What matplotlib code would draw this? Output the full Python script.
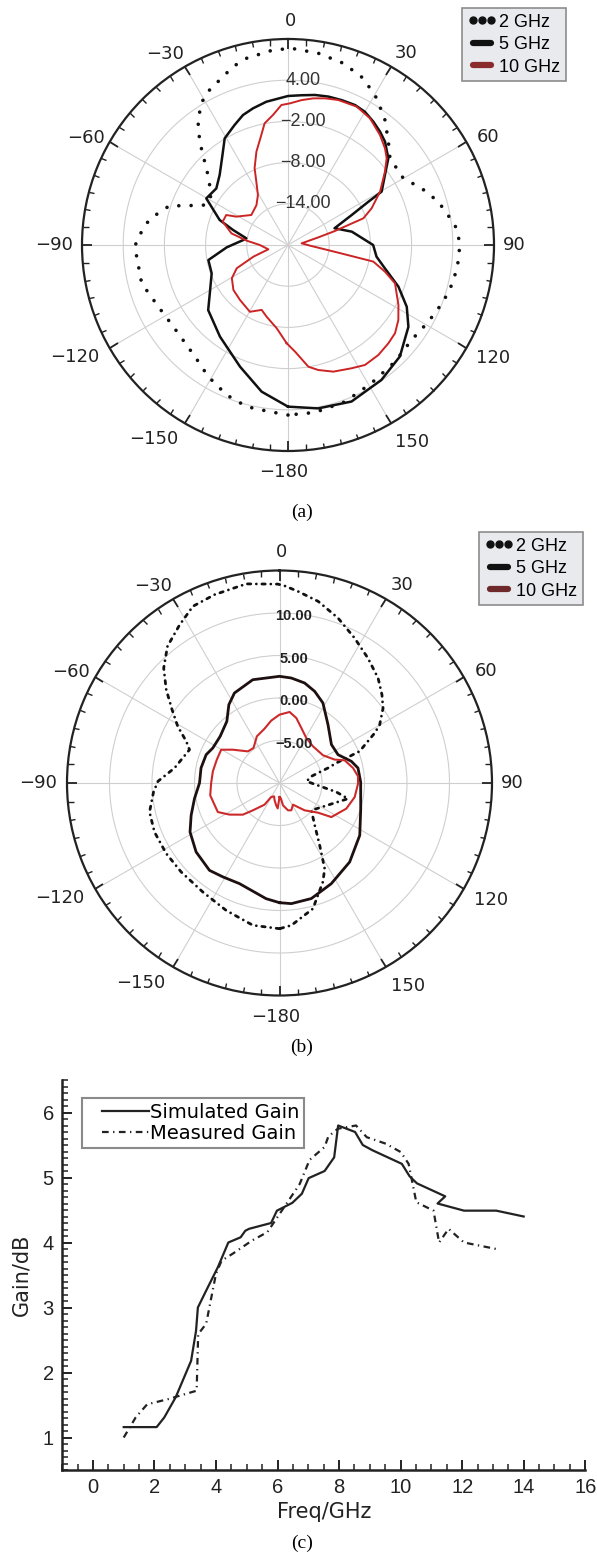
import numpy as np
import matplotlib
matplotlib.use('Agg')
import matplotlib.pyplot as plt
from matplotlib.lines import Line2D
from matplotlib.legend_handler import HandlerLine2D
from matplotlib.ticker import MultipleLocator, FixedLocator
import matplotlib.transforms as mtransforms

# ---------------- data ----------------
# (a) pattern, angle in degrees (0 = top, clockwise), gain in dB
a2_ang = [-180, -173.3, -165.7, -157.8, -148.8, -140.2, -125.9, -115.4, -104.7, -94.4, -90.6, -86.1,
          -80.5, -76.3, -71.6, -69.5, -63.9, -56.9, -48.8, -43.4, -40.5, -36.1, -31.5, -27.6, -17.1,
          -12.6, -4.4, 1.1, 9, 16.9, 24.3, 31.2, 37.8, 44.2, 49.6, 60, 67, 73.9, 83.2, 89.4, 95.6,
          102.5, 110, 118.6, 127.5, 137.5, 148.8, 160, 170.9, 180]
a2_val = [4.76, 4.4, 4.3, 3.6, 2.41, 1.16, 0.5, 0.91, 2.03, 2.1, 2.33, 1.65,
          0.67, -0.5, -1.84, -3.7, -6.76, -6.67, -4.5, -2.0, -0.2, 2.24, 4.2, 5.19, 7.18,
          7.85, 8.48, 8.64, 8.27, 7.67, 6.64, 4.96, 3.04, 0.97, -0.5, -0.6, 1.14, 2.78, 4.5, 5.05, 4.9,
          4.66, 4.08, 3.3, 2.7, 3.06, 3.5, 4.3, 4.7, 4.76]

a5_ang = [-180, -169.8, -158.5, -143.4, -129.2, -121.8, -110.4, -100.7, -92.2, -83.6, -80.9, -74.7,
          -69.9, -60.3, -51.7, -44.3, -36.1, -30.7, -24, -19.1, -14.4, -8.6, 0, 5.2, 10.2, 15.2,
          20.3, 25.6, 30, 34.7, 39.1, 43.2, 49.2, 54.2, 60.3, 61.7, 64.8, 70.2, 78.2, 90, 97.5,
          103.5, 110.7, 117.5, 124.2, 134.9, 145.3, 157.9, 169.5, 180]
a5_val = [3.54, 1.7, -0.95, -3.38, -5.0, -6.6, -8.14, -8.2, -11.07, -13.45, -13.85, -11.7,
          -9.4, -6.3, -6.7, -5.75, -3.8, -1.94, -0.87, 0.03, 0.54, 1.1, 1.7, 1.9, 2.2, 2.4,
          2.5, 2.6, 2.4, 1.84, 1.26, 0.64, -0.7, -2.6, -4.3, -6.7, -9.75, -12.8, -10.5, -7.6, -7.0,
          -5.5, -2.8, -0.5, 1.2, 3.0, 3.9, 4.6, 4.2, 3.54]

a10_ang = [-179.2, -172.3, -163.4, -157.9, -150.3, -138.9, -129.5, -120.6, -114.4, -108.6, -102.4,
           -90, -84, -78.4, -70.3, -64.1, -61.3, -50.7, -38.4, -31, -26.6, -23.5, -18.7, -13.6,
           -10.9, -6.6, -2.7, 0.8, 5.4, 9.8, 14.2, 19.1, 26.4, 32.9, 39.9, 45.1, 48.7, 52.9, 59.9,
           66.3, 70.5, 73.4, 75.8, 83, 91.7, 95.4, 98.6, 101, 105.4, 109.7, 118.5, 124.2, 129.5,
           134.4, 140.6, 147.3, 152.7, 160.3, 166.4, 170.5, 176.2, 180.8]
a10_val = [-5.7, -7.76, -9.1, -9.8, -8.8, -9.37, -9.7, -10.5, -11.8, -14.7, -17.07,
           -15.9, -13.95, -11.6, -9.9, -10.0, -11.4, -13.1, -12.6, -11.5, -9.7, -7.8, -5.65, -3.5,
           -1.96, -0.94, 0.41, 0.63, 1.2, 1.67, 2.03, 2.35, 2.5, 1.98, 0.88, -0.06, -0.87, -2.3, -4.5,
           -6.7, -8.36, -12.9, -15.4, -18.0, -16.8, -15.4, -12.7, -7.34, -5.35, -3.45, -1.7, -0.57, 0.2,
           0.46, 0.73, 0.76, 0.2, -0.41, -1.27, -2.03, -4.43, -5.7]

# (b) pattern
b2_ang = [-180, -169.4, -157.3, -144.9, -132.1, -121.9, -111.4, -102.6, -94.1, -89.2, -81.9, -69.7,
          -65.9, -60.9, -55.7, -50.5, -45.2, -39.3, -32.3, -26.1, -19, -9.5, -0.5, 1.5, 5.5, 12,
          19.5, 27.4, 35.3, 43.2, 49.2, 54.1, 59.8, 62.3, 68.4, 69.5, 70.6, 72.8, 78.2, 86.4, 91.1,
          99, 102.9, 130.6, 140.3, 147.2, 152.2, 156.3, 165.1, 175.2, 180]
b2_val = [7.14, 7.03, 6.25, 5.68, 5.6, 5.7, 5.8, 5.67, 4.86, 4.3, 2.48, 1.29,
          2.02, 3.7, 5.3, 7.27, 9.2, 10.8, 12.0, 13.15, 13.44, 13.75, 13.4, 13.2, 12.65, 11.85,
          10.6, 9.2, 8.0, 6.94, 5.92, 5.04, 3.64, 2.65, 0.14, -1.6, -2.9, -4.03, -6.17, -6.8, -6.06,
          -3.23, -1.73, -5.06, -3.5, -1.27, 1.4, 2.7, 5.3, 6.8, 7.14]

b5_ang = [-180, -173.4, -158.3, -148.9, -141.3, -129.6, -118.7, -110.1, -100.4, -90, -79.2, -68.9,
          -62.3, -51.8, -40.5, -32.9, -26.6, -14.5, 0, 6.4, 14.1, 21, 28.5, 39.7, 53.5, 64.2,
          73.2, 79.2, 89.3, 107.5, 123.1, 138.4, 152.8, 164.6, 174.4, 180]
b5_val = [4.08, 3.7, 2.74, 2.9, 3.17, 2.73, 2.0, 1.07, 0.17, -0.59, -0.6, -0.75,
          -1.14, -1.12, -0.46, 0.97, 1.84, 2.55, 2.55, 2.43, 2.13, 1.55, 0.71, -1.07, -2.4, -2.35,
          -1.17, -0.6, -0.45, 0.02, 1.27, 2.43, 3.32, 4.1, 4.26, 4.08]

b10_ang = [-180, -176, -171.5, -163.9, -158, -149.2, -145.3, -135.7, -130.8, -122.3, -115.2, -100.1,
           -90, -80.1, -69.6, -60.3, -54.5, -45, -36.6, -25.9, -15.4, -7.6, 0, 8.1, 14.5, 21.7,
           30.8, 42.4, 57.5, 67, 70.8, 78.5, 85.1, 90.5, 100.6, 111, 123.3, 127.6, 137.4, 148.1,
           156.6, 162.7, 171.1, 175, 180]
b10_val = [-8.35, -7.0, -7.35, -7.9, -8.3, -8.08, -6.9, -5.5, -4.3, -3.04, -1.98, -1.72,
           -1.96, -2.04, -2.13, -2.1, -3.25, -4.74, -4.87, -3.9, -3.37, -2.6, -1.96, -1.56, -2.1, -3.04,
           -3.84, -4.16, -3.93, -2.95, -1.88, -1.17, -0.73, -0.76, -1.0, -1.58, -2.7, -4.28, -5.63, -7.0,
           -6.5, -6.63, -7.34, -8.2, -8.35]

# (c) gain versus frequency
sim_freq = [1.0, 2.07, 2.32, 2.69, 3.19, 3.35, 3.41, 3.68, 4.06, 4.40, 4.80, 4.95, 5.07, 5.79, 5.98,
            6.48, 6.79, 7.01, 7.53, 7.84, 7.97, 8.52, 8.77, 9.08, 10.04, 10.29, 10.53, 11.45, 11.2,
            12.06, 13.11, 14.0]
sim_gain = [1.16, 1.16, 1.31, 1.62, 2.18, 2.64, 3.0, 3.26, 3.62, 4.0, 4.08, 4.18, 4.21, 4.3, 4.49,
            4.61, 4.75, 4.99, 5.1, 5.31, 5.80, 5.70, 5.50, 5.42, 5.21, 5.02, 4.91, 4.71, 4.60,
            4.49, 4.49, 4.40]
meas_freq = [1.0, 1.39, 1.76, 2.44, 3.37, 3.42, 3.68, 3.87, 4.0, 4.18, 4.55, 5.17, 5.67, 6.72, 7.04,
             7.53, 7.65, 7.96, 8.55, 8.9, 9.52, 10.01, 10.26, 10.51, 11.07, 11.25, 11.56, 12.06, 13.11]
meas_gain = [1.0, 1.31, 1.51, 1.59, 1.72, 2.59, 2.75, 3.21, 3.52, 3.72, 3.83, 4.03, 4.16, 4.9, 5.27,
             5.47, 5.63, 5.75, 5.80, 5.62, 5.52, 5.39, 5.21, 4.62, 4.49, 4.0, 4.21, 4.0, 3.90]

theta_ticks = [0, 30, 60, 90, 120, 150, 180, 210, 240, 270, 300, 330]
theta_labels = ['0', '30', '60', '90', '120', '150', '\u2212180', '\u2212150', '\u2212120',
                '\u221290', '\u221260', '\u221230']
freq_labels = ['2 GHz', '5 GHz', '10 GHz']

# label centres relative to the polar circle (units of radius; x right, y up)
label_offsets = [(0.01, 1.086), (0.575, 0.932), (0.97, 0.525), (1.097, 0.0), (0.997, -0.55),
                 (0.603, -0.956), (-0.02, -1.10), (-0.651, -0.94), (-1.036, -0.542),
                 (-1.136, 0.0), (-0.981, 0.521), (-0.596, 0.927)]

# ---------------- figure ----------------
W, H = 597, 1558
fig = plt.figure(figsize=(W / 100, H / 100), dpi=100)
fig.patch.set_facecolor('white')


def rect_px(x0, y0, w, h):
    return [x0 / W, 1 - (y0 + h) / H, w / W, h / H]


def setup_polar(ax, rmin, rmax, rticks, lab_kw, dx_px, dy_px):
    ax.set_theta_zero_location('N')
    ax.set_theta_direction(-1)
    ax.set_ylim(rmin, rmax)
    ax.set_yticks(rticks)
    ax.set_yticklabels([])
    ax.set_xticks(np.deg2rad(theta_ticks))
    ax.set_xticklabels([])
    ax.xaxis.set_minor_locator(FixedLocator(np.deg2rad(np.arange(0, 360, 5))))
    ax.tick_params(axis='x', which='both', top=True, bottom=False)
    ax.tick_params(axis='x', which='major', direction='in', length=7, width=1.3,
                   color='#222222')
    ax.tick_params(axis='x', which='minor', direction='in', length=4, width=1.0, color='#222222')
    ax.grid(True, color='#cfcfcf', lw=0.8)
    ax.spines['polar'].set_linewidth(1.6)
    ax.spines['polar'].set_color('#222222')
    for lab, (nx, ny) in zip(theta_labels, label_offsets):
        ax.text(0.5 + nx / 2, 0.5 + ny / 2, lab, transform=ax.transAxes, ha='center',
                va='center', fontsize=13, family='DejaVu Sans', color='#222222', clip_on=False)
    trans = mtransforms.offset_copy(ax.transData, fig=fig, x=dx_px, y=dy_px, units='dots')
    for v in rticks:
        ax.text(0, v, f'{v:.2f}'.replace('-', '\u2212'), transform=trans,
                ha='center', va='center', **lab_kw)


def polar_legend(ax, x0, y0, red):
    hs = [Line2D([], [], ls='', marker='o', ms=5, color='#111111'),
          Line2D([], [], lw=4.5, color='#111111', solid_capstyle='round'),
          Line2D([], [], lw=4.5, color=red, solid_capstyle='round')]
    leg = fig.legend(hs, freq_labels, loc='upper left', bbox_to_anchor=(x0 / W, 1 - y0 / H),
                     bbox_transform=fig.transFigure, borderaxespad=0, numpoints=3,
                     prop={'family': 'Liberation Sans', 'size': 13}, handlelength=1.6,
                     handletextpad=0.12, labelspacing=0.3, borderpad=0.32, fancybox=False,
                     framealpha=1, facecolor='#e8eaee', edgecolor='#8c8c8c')
    leg.get_frame().set_linewidth(1.2)
    return leg


dot_ls = (0, (0.01, 3.4))

# ----- (a) -----
axa = fig.add_axes(rect_px(82, 39, 412, 412), projection='polar')
setup_polar(axa, -20, 10, [-14, -8, -2, 4],
            dict(family='Liberation Sans', fontsize=13, color='#333333'), 15, 0)
axa.plot(np.deg2rad(a2_ang), a2_val, color='#111111', lw=2.6, ls=dot_ls, dash_capstyle='round')
axa.plot(np.deg2rad(a5_ang), a5_val, color='#111111', lw=1.8)
axa.plot(np.deg2rad(a10_ang), a10_val, color='#cc2424', lw=1.4)
polar_legend(axa, 462, 8, '#8b2a2a')
fig.text(302 / W, 1 - 512 / H, '(a)', family='Liberation Serif', fontsize=14,
         ha='center', va='center')

# ----- (b) -----
axb = fig.add_axes(rect_px(67, 570.5, 425, 425), projection='polar')
setup_polar(axb, -10, 15, [-5, 0, 5, 10],
            dict(family='Liberation Sans', fontsize=10.5, fontweight='bold', color='#222222'), 14, -3)
axb.plot(np.deg2rad(b2_ang), b2_val, color='#111111', lw=2.0, ls=(0, (1.2, 2.0, 0.01, 2.0)),
         dash_capstyle='round')
axb.plot(np.deg2rad(b5_ang), b5_val, color='#1e1010', lw=2.0)
axb.plot(np.deg2rad(b10_ang), b10_val, color='#cc2a2a', lw=1.5)
polar_legend(axb, 479, 532, '#6e2a2a')
fig.text(302 / W, 1 - 1047 / H, '(b)', family='Liberation Serif', fontsize=14,
         ha='center', va='center')

# ----- (c) -----
axc = fig.add_axes(rect_px(62.2, 1080, 523, 390))
l_sim, = axc.plot(sim_freq, sim_gain, color='#222222', lw=1.6, label='Simulated Gain')
l_meas, = axc.plot(meas_freq, meas_gain, color='#222222', lw=1.6, ls=(0, (3.0, 2.0, 0.6, 2.0)),
                   label='Measured Gain')
axc.set_xlim(-1, 16)
axc.set_ylim(0.5, 6.5)
axc.set_xticks(range(0, 17, 2))
axc.xaxis.set_minor_locator(MultipleLocator(0.5))
axc.set_yticks(range(1, 7))
axc.yaxis.set_minor_locator(MultipleLocator(0.1))
for s in ['top', 'right']:
    axc.spines[s].set_visible(False)
for s in ['left', 'bottom']:
    axc.spines[s].set_linewidth(1.8)
    axc.spines[s].set_color('#222222')
axc.tick_params(which='major', direction='in', length=7, width=1.4, labelsize=14.5, pad=6,
                colors='#222222')
axc.tick_params(which='minor', direction='in', length=4, width=1.1, colors='#222222')
for lab in axc.get_xticklabels() + axc.get_yticklabels():
    lab.set_family('Liberation Sans')
axc.set_xlabel('Freq/GHz', fontsize=15, labelpad=3, color='#222222')
axc.set_ylabel('Gain/dB', fontsize=15, labelpad=8, color='#222222')
legc = axc.legend(handles=[l_sim, l_meas], loc='upper left',
                  bbox_to_anchor=(82 / W, 1 - 1098 / H), bbox_transform=fig.transFigure,
                  borderaxespad=0, prop={'family': 'DejaVu Sans', 'size': 14},
                  handlelength=3.17, handletextpad=0.08, labelspacing=0.1, borderpad=0.25,
                  fancybox=False, framealpha=1, edgecolor='#8a8a8a',
                  handler_map={l_sim: HandlerLine2D(xpad=0.8), l_meas: HandlerLine2D(xpad=0.8)})
legc.get_frame().set_linewidth(1.5)
fig.text(302 / W, 1 - 1543 / H, '(c)', family='Liberation Serif', fontsize=14,
         ha='center', va='center')

fig.savefig('out.png', dpi=100)
